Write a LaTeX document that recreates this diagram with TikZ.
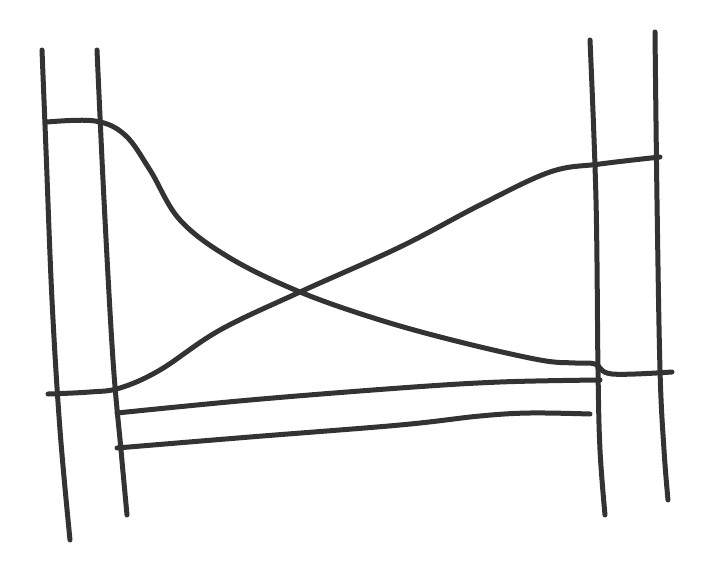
\documentclass[tikz,border=0pt]{standalone}
\begin{document}
\begin{tikzpicture}[x=1pt,y=-1pt,
  stroke/.style={draw=black!80, line width=5pt, line cap=round, line join=round}]
\useasboundingbox (0,0) rectangle (725,575);
\fill[white] (0,0) rectangle (725,575);
% verticals
\draw[stroke] plot[smooth,tension=0.6] coordinates {(42,50) (46,150) (52,300) (60,430) (70,540)};
\draw[stroke] plot[smooth,tension=0.6] coordinates {(97,50) (104,200) (113,360) (121,450) (127,515)};
\draw[stroke] plot[smooth,tension=0.6] coordinates {(590,40) (596,200) (598,370) (600,450) (605,515)};
\draw[stroke] plot[smooth,tension=0.6] coordinates {(655,32) (657,200) (660,370) (664,450) (668,500)};
% crossing curves
\draw[stroke] plot[smooth,tension=0.6] coordinates {(47,122) (95,121) (125,135) (150,170) (180,220) (230,258) (300,292) (380,320) (460,342) (540,360) (575,363) (595,364) (612,374) (672,372)};
\draw[stroke] plot[smooth,tension=0.6] coordinates {(48,394) (90,392) (120,388) (160,370) (220,330) (300,292) (400,247) (480,205) (550,172) (600,164) (660,157)};
% lower lines
\draw[stroke] plot[smooth,tension=0.6] coordinates {(117,413) (250,400) (400,388) (500,382) (600,380)};
\draw[stroke] plot[smooth,tension=0.6] coordinates {(117,448) (250,437) (400,425) (480,416) (530,413) (590,414)};
\end{tikzpicture}
\end{document}
